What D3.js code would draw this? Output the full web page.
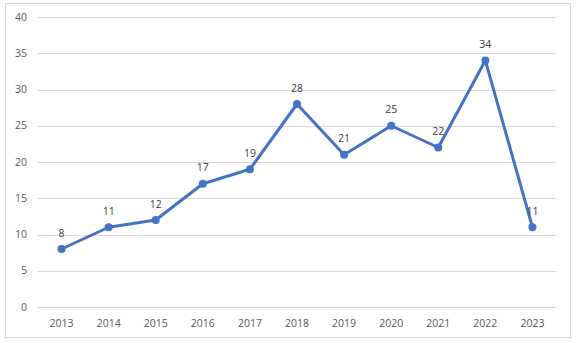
<!DOCTYPE html>
<html><head><meta charset="utf-8">
<script src="https://cdn.jsdelivr.net/npm/d3@7"></script>
<style>body{margin:0;background:#fff;}svg{display:block;}</style>
</head><body>
<script>
const years = ["2013","2014","2015","2016","2017","2018","2019","2020","2021","2022","2023"];
const values = [8, 11, 12, 17, 19, 28, 21, 25, 22, 34, 11];
const yTicks = [0, 5, 10, 15, 20, 25, 30, 35, 40];

const W = 576, H = 343;
const m = {left: 38, right: 20, top: 17, bottom: 36};
const svg = d3.select("body").append("svg").attr("width", W).attr("height", H);
svg.append("rect").attr("x", 5.5).attr("y", 3.5).attr("width", 565).attr("height", 334)
  .attr("fill", "#fff").attr("stroke", "#d9d9d9").attr("stroke-width", 1);

const x = d3.scaleBand().domain(years).range([38, 556]);
const y = d3.scaleLinear().domain([0, 40]).range([307, 17]);
const font = "'Open Sans', 'Liberation Sans', sans-serif";

const g = svg.append("g");
g.selectAll("line.grid").data(yTicks).join("line")
  .attr("x1", 38).attr("x2", 556)
  .attr("y1", d => Math.round(y(d)) + 0.5).attr("y2", d => Math.round(y(d)) + 0.5)
  .attr("stroke", "#d9d9d9").attr("stroke-width", 1);

g.selectAll("text.yt").data(yTicks).join("text")
  .attr("x", 27).attr("y", d => y(d)).attr("dy", "0.35em")
  .attr("text-anchor", "end").attr("font-family", font).attr("font-size", 10.5)
  .attr("fill", "#595959").text(d => d);

g.selectAll("text.xt").data(years).join("text")
  .attr("x", d => x(d) + x.bandwidth() / 2).attr("y", 323).attr("dy", "0.35em")
  .attr("text-anchor", "middle").attr("font-family", font).attr("font-size", 10.5)
  .attr("fill", "#595959").text(d => d);

const line = d3.line().x((d, i) => x(years[i]) + x.bandwidth() / 2).y(d => y(d));
g.append("path").datum(values).attr("d", line).attr("fill", "none")
  .attr("stroke", "#4472C4").attr("stroke-width", 3).attr("stroke-linejoin", "round");

g.selectAll("circle").data(values).join("circle")
  .attr("cx", (d, i) => x(years[i]) + x.bandwidth() / 2).attr("cy", d => y(d))
  .attr("r", 4).attr("fill", "#4472C4");

g.selectAll("text.lbl").data(values).join("text")
  .attr("x", (d, i) => x(years[i]) + x.bandwidth() / 2).attr("y", d => y(d) - 16).attr("dy", "0.35em")
  .attr("text-anchor", "middle").attr("font-family", font).attr("font-size", 10.5)
  .attr("fill", "#404040").text(d => d);
</script>
</body></html>
